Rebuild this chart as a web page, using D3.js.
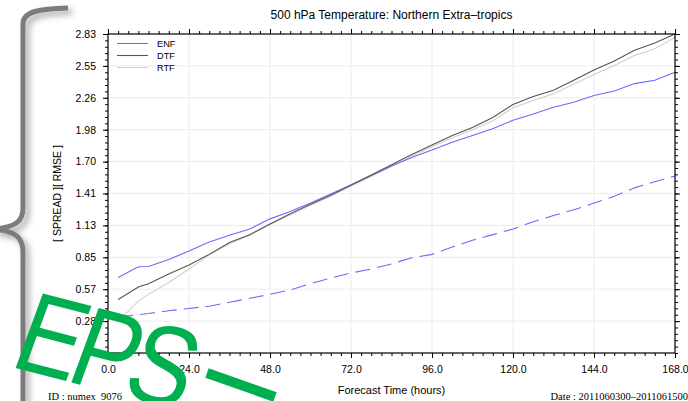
<!DOCTYPE html>
<html><head><meta charset="utf-8">
<script src="https://cdn.jsdelivr.net/npm/d3@7"></script>
<style>
html,body{margin:0;padding:0;background:#fff;}
svg{display:block;}
</style></head>
<body>
<div id="chart"></div>
<script>
// ---- data ----
const hours = [3,9,12,18,24,30,36,42,48,54,60,66,72,78,84,90,96,102,108,114,120,126,132,138,144,150,156,162,168];
const enfRmse = [0.67,0.765,0.768,0.83,0.905,0.985,1.045,1.10,1.19,1.255,1.33,1.41,1.49,1.575,1.66,1.735,1.80,1.87,1.93,1.99,2.065,2.12,2.18,2.225,2.285,2.325,2.39,2.42,2.49];
const dtfRmse = [0.475,0.585,0.615,0.70,0.78,0.875,0.98,1.05,1.145,1.235,1.32,1.40,1.49,1.58,1.67,1.76,1.845,1.93,2.00,2.09,2.205,2.275,2.33,2.42,2.51,2.59,2.685,2.75,2.83];
const rtfRmse = [0.28,0.46,0.52,0.625,0.745,0.87,0.97,1.045,1.14,1.225,1.31,1.39,1.48,1.565,1.655,1.745,1.83,1.91,1.98,2.06,2.175,2.24,2.30,2.385,2.47,2.55,2.64,2.70,2.80];
const enfSpread = [0.32,0.34,0.35,0.375,0.395,0.415,0.45,0.485,0.52,0.56,0.615,0.665,0.71,0.745,0.79,0.845,0.875,0.94,1.00,1.05,1.10,1.165,1.22,1.27,1.33,1.39,1.465,1.52,1.57];
const legendNames = ["ENF","DTF","RTF"];
const xTickValues = [0,24,48,72,96,120,144,168];
const xTickLabels = ["0.0","24.0","48.0","72.0","96.0","120.0","144.0","168.0"];
const yTickValues = [0.283,0.566,0.849,1.132,1.415,1.698,1.981,2.264,2.547,2.83];
const yTickLabels = ["0.28","0.57","0.85","1.13","1.41","1.70","1.98","2.26","2.55","2.83"];
const titleText = "500 hPa Temperature: Northern Extra\u2013tropics";
const xTitle = "Forecast Time (hours)";
const yTitle = "[ SPREAD ][ RMSE ]";
const idText = "ID : numex_9076";
const dateText = "Date : 2011060300\u20132011061500";
const overlayText = "EPS";

// ---- layout ----
const W = 688, H = 401;
const L = 108, R = 675, T = 34, B = 353;
const sans = "'Liberation Sans', Arial, Helvetica, sans-serif";
const serif = "'Liberation Serif', 'Times New Roman', serif";

const svg = d3.select("#chart").append("svg").attr("width", W).attr("height", H);
const defs = svg.append("defs");
const f = defs.append("filter").attr("id","sh").attr("x","-50%").attr("y","-10%").attr("width","250%").attr("height","130%");
f.append("feDropShadow").attr("dx",4).attr("dy",4).attr("stdDeviation",3).attr("flood-color","#000").attr("flood-opacity",0.35);

const x = d3.scaleLinear().domain([0,168]).range([L,R]);
const y = d3.scaleLinear().domain([0,2.83]).range([B,T]);

// grid
const grid = svg.append("g").attr("stroke","#ececec").attr("stroke-width",1);
xTickValues.slice(1,-1).forEach(v => grid.append("line").attr("x1",x(v)).attr("x2",x(v)).attr("y1",T).attr("y2",B));
yTickValues.slice(0,-1).forEach(v => grid.append("line").attr("y1",y(v)).attr("y2",y(v)).attr("x1",L).attr("x2",R));

// series
const pts = arr => hours.map((h,i)=>[h,arr[i]]);
const line = d3.line().x(d=>x(d[0])).y(d=>y(d[1]));
const series = [
  {v: rtfRmse, c:"#cfcfcf", dash:null},
  {v: enfSpread, c:"#6a6aff", dash:"15,7"},
  {v: enfRmse, c:"#6a6aff", dash:null},
  {v: dtfRmse, c:"#555555", dash:null}
];
series.forEach(s => {
  svg.append("path").datum(pts(s.v)).attr("d", line).attr("fill","none")
    .attr("stroke", s.c).attr("stroke-width",1.1).attr("stroke-dasharray", s.dash);
});

// axes
function styleAxis(g){ g.select(".domain").remove(); g.selectAll("line").attr("stroke","#000").attr("stroke-width",1); g.selectAll("text").attr("font-family",sans).attr("font-size","10.5px").attr("fill","#000"); }
const minorX = d3.range(0,169,3);
const minorY = d3.range(0,51).map(i=>i*0.0566).filter(v=>v<=2.831);

svg.append("g").attr("transform",`translate(0,${B})`).call(d3.axisBottom(x).tickValues(minorX).tickSize(3).tickFormat("")).call(styleAxis);
svg.append("g").attr("transform",`translate(0,${B})`).call(d3.axisBottom(x).tickValues(xTickValues).tickSize(5).tickPadding(8).tickFormat((d,i)=>xTickLabels[i])).call(styleAxis);
svg.append("g").attr("transform",`translate(0,${T})`).call(d3.axisTop(x).tickValues(minorX).tickSize(3).tickFormat("")).call(styleAxis);
svg.append("g").attr("transform",`translate(0,${T})`).call(d3.axisTop(x).tickValues(xTickValues).tickSize(5).tickFormat("")).call(styleAxis);
svg.append("g").attr("transform",`translate(${L},0)`).call(d3.axisLeft(y).tickValues(minorY).tickSize(3).tickFormat("")).call(styleAxis);
svg.append("g").attr("transform",`translate(${L},0)`).call(d3.axisLeft(y).tickValues(yTickValues).tickSize(5).tickPadding(7).tickFormat((d,i)=>yTickLabels[i])).call(styleAxis);
svg.append("g").attr("transform",`translate(${R},0)`).call(d3.axisRight(y).tickValues(minorY).tickSize(3).tickFormat("")).call(styleAxis);
svg.append("g").attr("transform",`translate(${R},0)`).call(d3.axisRight(y).tickValues(yTickValues).tickSize(5).tickFormat("")).call(styleAxis);

svg.append("rect").attr("x",L).attr("y",T).attr("width",R-L).attr("height",B-T).attr("fill","none").attr("stroke","#000").attr("stroke-width",1.2);

// legend
const legColors = ["#6a6aff","#555555","#cfcfcf"];
legendNames.forEach((n,i)=>{
  const ly = 43.5 + i*12;
  svg.append("line").attr("x1",117).attr("x2",148).attr("y1",ly).attr("y2",ly).attr("stroke",legColors[i]).attr("stroke-width",1.1);
  svg.append("text").attr("x",157).attr("y",ly+3.3).attr("font-family",sans).attr("font-size","9.2px").text(n);
});

// titles
svg.append("text").attr("x",(L+R)/2).attr("y",18.5).attr("text-anchor","middle").attr("font-family",sans).attr("font-size","12px").text(titleText);
svg.append("text").attr("x",(L+R)/2).attr("y",394).attr("text-anchor","middle").attr("font-family",sans).attr("font-size","11px").text(xTitle);
svg.append("text").attr("transform",`translate(61,${(T+B)/2}) rotate(-90)`).attr("text-anchor","middle").attr("font-family",sans).attr("font-size","10.5px").text(yTitle);
svg.append("text").attr("x",48).attr("y",399.5).attr("font-family",serif).attr("font-size","10.5px").text(idText);
svg.append("text").attr("x",688).attr("y",399.5).attr("text-anchor","end").attr("font-family",serif).attr("font-size","10.5px").text(dateText);

// brace decoration
svg.append("path")
  .attr("d","M68,8 C40,9 23,11 23,24 L23,208 C23,222 15,227 -6,229 C15,231 23,237 23,252 L23,410")
  .attr("fill","none").attr("stroke","#7c7c7c").attr("stroke-width",5).attr("filter","url(#sh)");

// green overlay
const ov = svg.append("g").attr("transform","translate(8,366) scale(0.82,1) rotate(12) skewX(-12)");
ov.append("text").attr("x",0).attr("y",0).attr("font-family",sans).attr("font-size","116px").attr("letter-spacing","-8px").attr("fill","#00b050").text(overlayText);
svg.append("line").attr("x1",207).attr("y1",373).attr("x2",275).attr("y2",397).attr("stroke","#00b050").attr("stroke-width",10);
</script>
</body></html>
